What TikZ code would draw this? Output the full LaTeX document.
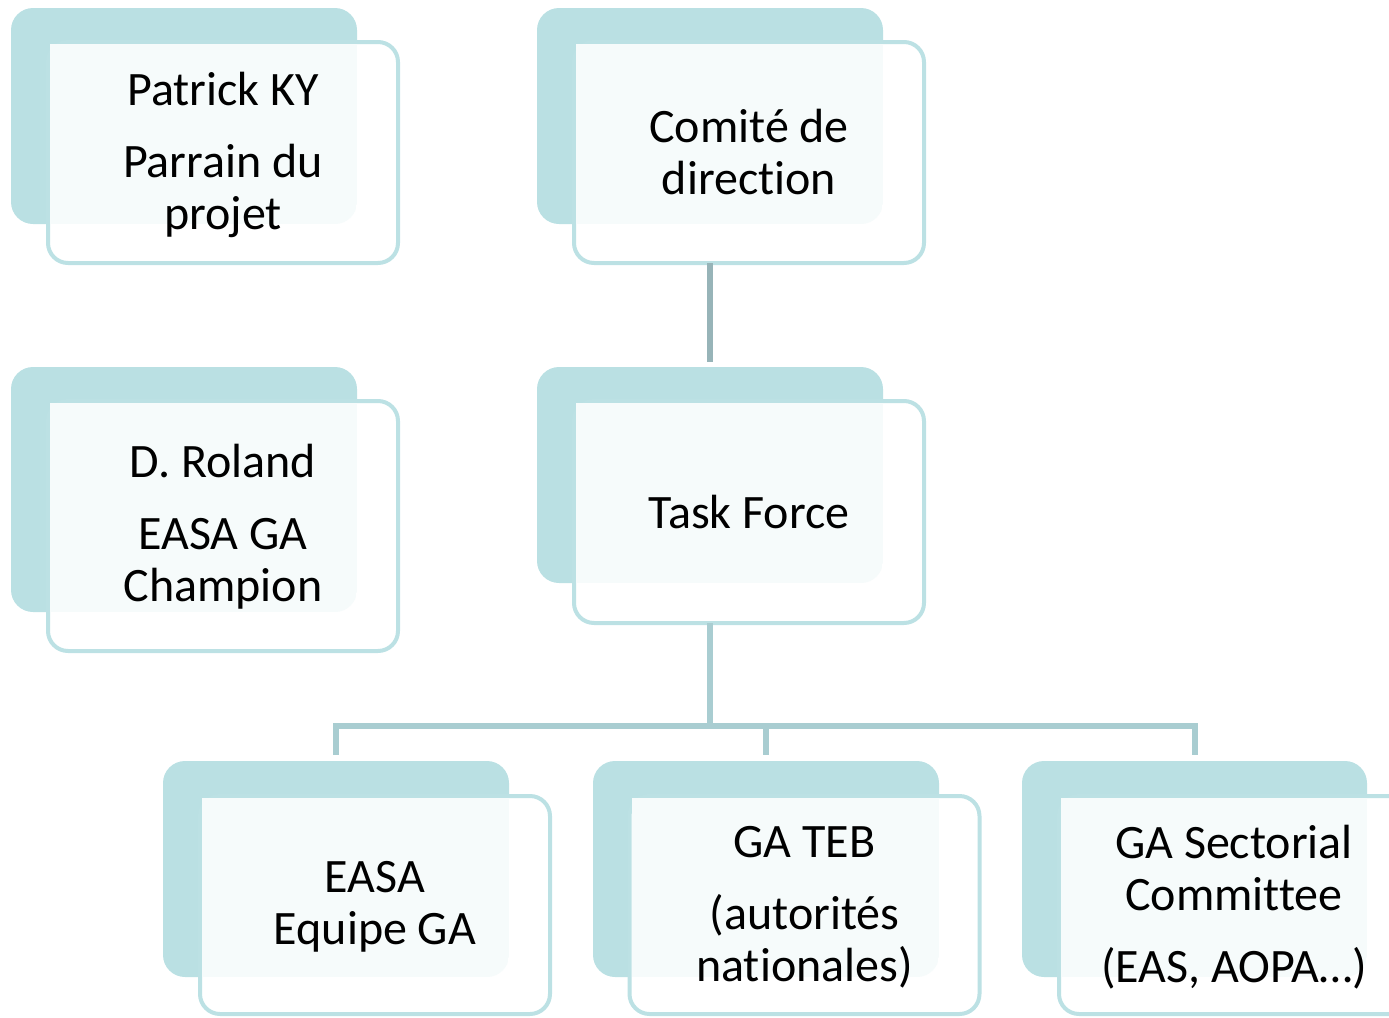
\documentclass[tikz,border=0pt]{standalone}
\usepackage{fontspec}
\setmainfont[Ligatures=CommonOff]{Carlito}
\definecolor{backfill}{HTML}{BAE0E3}
\definecolor{frontline}{HTML}{BCE1E4}
\definecolor{textbg}{HTML}{F6FBFB}
\definecolor{connA}{HTML}{97B4B8}
\definecolor{connB}{HTML}{A9CDD1}
\tikzset{
  backbox/.style={fill=backfill, draw=none, rounded corners=22pt, inner sep=0pt, outer sep=0pt, anchor=north west, minimum width=346pt},
  frontbox/.style={fill=white, draw=frontline, line width=4pt, rounded corners=20pt, inner sep=0pt, outer sep=0pt, minimum width=350pt, align=center, font=\fontsize{48}{52}\selectfont},
  conn/.style={line width=6pt, line join=miter},
}
\newcommand\textarea[2]{%
  \begin{scope}
    \clip[rounded corners=22pt] (#1.north west) rectangle (#1.south east);
    \fill[textbg] ([xshift=2pt,yshift=-2pt]#2.north west) rectangle (#1.south east);
  \end{scope}}
\begin{document}
\begin{tikzpicture}[x=1pt,y=-1pt]
\useasboundingbox (0,0) rectangle (1389,1017);
\clip (0,0) rectangle (1389,1017);
% back boxes
\node[backbox, minimum height=216pt] (pkb) at (11,8) {};
\node[backbox, minimum height=216pt] (cdb) at (537,8) {};
\node[backbox, minimum height=245pt] (drb) at (11,367) {};
\node[backbox, minimum height=216pt] (tfb) at (537,367) {};
\node[backbox, minimum height=216pt] (eab) at (163,761) {};
\node[backbox, minimum height=216pt] (tebb) at (593,761) {};
\node[backbox, minimum height=216pt, minimum width=345pt] (scb) at (1022,761) {};
% coordinates for connectors
\coordinate (bus) at (710,726);
% front boxes
\node[frontbox, minimum height=221pt] (pk) at (223,152.5) {};
\node[frontbox, minimum height=221pt] (cd) at (749,152.5) {};
\node[frontbox, minimum height=250pt] (dr) at (223,526) {};
\node[frontbox, minimum height=222pt] (tf) at (749,512) {};
\node[frontbox, minimum height=218pt] (ea) at (375,905) {};
\node[frontbox, minimum height=218pt] (teb) at (804.5,905) {};
\node[frontbox, minimum height=218pt] (sc) at (1234,905) {};
% connectors
\draw[conn, connA] (cdb.center |- cd.south) -- ([yshift=5pt]tfb.north);
\draw[conn, connB] (tfb.center |- tf.south) -- (bus);
\draw[conn, connB] ([yshift=6pt]eab.north) |- (bus) -| ([yshift=6pt]scb.north);
\draw[conn, connB] (bus) -| ([yshift=6pt]tebb.north);
% text areas
\textarea{pkb}{pk}
\textarea{cdb}{cd}
\textarea{drb}{dr}
\textarea{tfb}{tf}
\textarea{eab}{ea}
\textarea{tebb}{teb}
\textarea{scb}{sc}
% texts
\node[frontbox, draw=none, fill=none] (pkt) at ([yshift=-2pt]pk.center) {Patrick KY\\[20pt]Parrain du\\projet};
\node[frontbox, draw=none, fill=none] (cdt) at (cd.center) {Comité de\\direction};
\node[frontbox, draw=none, fill=none] (drt) at ([yshift=-1pt]dr.center) {D. Roland\\[20pt]EASA GA\\Champion};
\node[frontbox, draw=none, fill=none] (tft) at (tf.center) {Task Force};
\node[frontbox, draw=none, fill=none] (eat) at ([yshift=-2pt]ea.center) {EASA\\Equipe GA};
\node[frontbox, draw=none, fill=none] (tebt) at ([yshift=-2pt]teb.center) {GA TEB\\[20pt](autorités\\nationales)};
\node[frontbox, draw=none, fill=none] (sct) at ([yshift=-2pt]sc.center) {GA Sectorial\\Committee\\[20pt](EAS, AOPA…)};
\end{tikzpicture}
\end{document}
